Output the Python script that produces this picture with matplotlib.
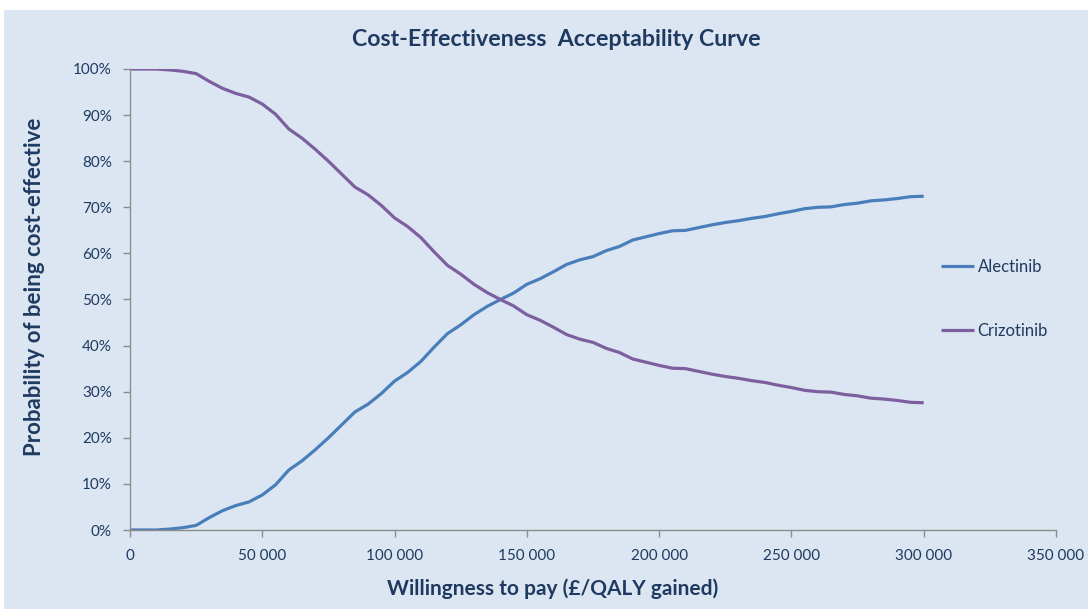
import matplotlib
import matplotlib.pyplot as plt
import numpy as np
from matplotlib.patches import Rectangle
from matplotlib.ticker import FuncFormatter, MultipleLocator

matplotlib.use('Agg')

# willingness-to-pay thresholds (GBP per QALY gained)
wtp = np.arange(0, 300001, 5000)

# probability of each option being cost-effective, in %
alectinib = [
    0.0, 0.0, 0.0, 0.2, 0.5, 1.0, 2.7, 4.2, 5.3, 6.1,
    7.6, 9.8, 13.0, 15.0, 17.4, 20.0, 22.8, 25.6, 27.3, 29.6,
    32.3, 34.2, 36.6, 39.7, 42.6, 44.5, 46.7, 48.5, 50.0, 51.4,
    53.3, 54.5, 56.0, 57.6, 58.6, 59.3, 60.6, 61.5, 62.9, 63.6,
    64.3, 64.9, 65.0, 65.6, 66.2, 66.7, 67.1, 67.6, 68.0, 68.6,
    69.1, 69.7, 70.0, 70.1, 70.6, 70.9, 71.4, 71.6, 71.9, 72.3,
    72.4,
]
crizotinib = [
    100.0, 100.0, 100.0, 99.8, 99.5, 99.0, 97.3, 95.8, 94.7, 93.9,
    92.4, 90.2, 87.0, 85.0, 82.6, 80.0, 77.2, 74.4, 72.7, 70.4,
    67.7, 65.8, 63.4, 60.3, 57.4, 55.5, 53.3, 51.5, 50.0, 48.6,
    46.7, 45.5, 44.0, 42.4, 41.4, 40.7, 39.4, 38.5, 37.1, 36.4,
    35.7, 35.1, 35.0, 34.4, 33.8, 33.3, 32.9, 32.4, 32.0, 31.4,
    30.9, 30.3, 30.0, 29.9, 29.4, 29.1, 28.6, 28.4, 28.1, 27.7,
    27.6,
]
series = [('Alectinib', alectinib, '#4a7ebb'), ('Crizotinib', crizotinib, '#7d5fa0')]

bg = '#dce6f2'
text_col = '#1f3a60'
axis_col = '#8c8c8c'
font = ['Lato', 'DejaVu Sans']

fig = plt.figure(figsize=(10.88, 6.09), dpi=100, facecolor='white')
# chart area sits inside a thin white margin
fig.patches.append(Rectangle((4 / 1088, 0), 1, 1 - 10 / 609, transform=fig.transFigure,
                             facecolor=bg, edgecolor='none', zorder=-1))

ax = fig.add_axes([130 / 1088, 79 / 609, 926 / 1088, 461 / 609])
ax.set_facecolor(bg)

for name, vals, col in series:
    ax.plot(wtp, np.array(vals) / 100, color=col, lw=2.3, label=name, solid_capstyle='butt')

ax.set_xlim(0, 350000)
ax.set_ylim(0, 1)
ax.xaxis.set_major_locator(MultipleLocator(50000))
ax.yaxis.set_major_locator(MultipleLocator(0.1))
ax.xaxis.set_major_formatter(FuncFormatter(lambda v, _: f'{int(v):,}'.replace(',', ' ')))
ax.yaxis.set_major_formatter(FuncFormatter(lambda v, _: f'{v * 100:.0f}%'))

for side in ('top', 'right'):
    ax.spines[side].set_visible(False)
for side in ('left', 'bottom'):
    ax.spines[side].set_color(axis_col)
    ax.spines[side].set_linewidth(1.0)
ax.tick_params(colors=axis_col, length=5, width=1.0, labelcolor=text_col, labelsize=11)
ax.tick_params(axis='x', pad=9)
ax.tick_params(axis='y', pad=8)
for lab in ax.get_xticklabels() + ax.get_yticklabels():
    lab.set_family(font)

fig.text(556 / 1088, 1 - 40 / 609, 'Cost-Effectiveness  Acceptability Curve', ha='center', va='center',
         fontsize=16.7, fontweight='bold', color=text_col, family=font)
fig.text(35 / 1088, 1 - 287 / 609, 'Probability of being cost-effective', ha='center', va='center',
         rotation=90, fontsize=16, fontweight='bold', color=text_col, family=font)
fig.text(553 / 1088, 1 - 589 / 609, 'Willingness to pay (£/QALY gained)', ha='center', va='center',
         fontsize=15, fontweight='bold', color=text_col, family=font)

leg = ax.legend(loc='center left', bbox_to_anchor=(926 / 1088, 1 - 299 / 609),
                bbox_transform=fig.transFigure, frameon=False, handlelength=2.0,
                handletextpad=0.2, labelspacing=2.9, prop={'family': font, 'size': 12})
for t in leg.get_texts():
    t.set_color(text_col)

fig.savefig('out.png', dpi=100, facecolor=fig.get_facecolor())
